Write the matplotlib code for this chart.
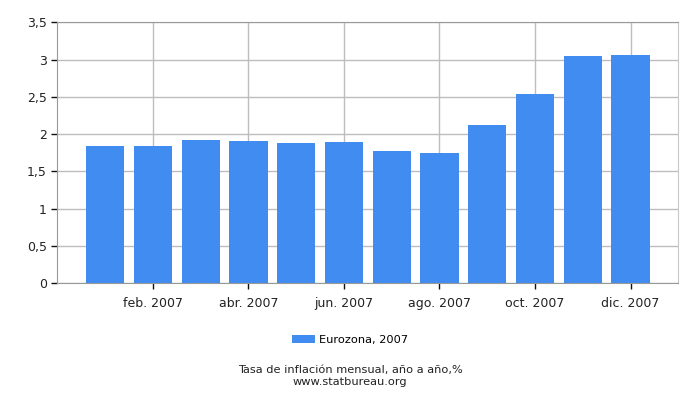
import matplotlib
matplotlib.use("Agg")
import matplotlib.pyplot as plt
from matplotlib.ticker import FuncFormatter, MultipleLocator

months = ["ene.", "feb.", "mar.", "abr.", "may.", "jun.",
          "jul.", "ago.", "sep.", "oct.", "nov.", "dic."]
year = "2007"
rates = [1.84, 1.84, 1.92, 1.91, 1.88, 1.90,
         1.77, 1.75, 2.12, 2.54, 3.05, 3.06]
series_label = "Eurozona, 2007"
caption = "Tasa de inflación mensual, año a año,%"
source = "www.statbureau.org"

bar_color = "#418cf0"
grid_color = "#bdbdbd"

fig = plt.figure(figsize=(7, 4), dpi=100)
ax = fig.add_axes([0.082, 0.2925, 0.887, 0.6515])

x = list(range(len(months)))
ax.bar(x, rates, width=0.8, color=bar_color, zorder=2, label=series_label)

ax.set_xlim(-1, 12)
ax.set_ylim(0, 3.5)
ax.yaxis.set_major_locator(MultipleLocator(0.5))
ax.yaxis.set_major_formatter(
    FuncFormatter(lambda v, _: f"{v:g}".replace(".", ",")))

tick_pos = x[1::2]
ax.set_xticks(tick_pos)
ax.set_xticklabels([f"{months[i]} {year}" for i in tick_pos])

ax.grid(True, color=grid_color, linewidth=1, zorder=0)
ax.set_axisbelow(True)
for side in ("top", "left", "bottom"):
    ax.spines[side].set_color("#999999")
ax.spines["right"].set_color("#c8c8c8")
ax.tick_params(axis="both", colors="#111111", labelsize=9, length=4,
               width=1, labelcolor="#222222")
ax.tick_params(axis="x", pad=6)

fig.legend(loc="center", bbox_to_anchor=(0.5, 0.15), frameon=False,
           fontsize=8.2, handlelength=2.0, handleheight=0.7,
           handletextpad=0.4)
fig.text(0.5, 0.074, caption, ha="center", va="center", fontsize=8.2,
         color="#222222")
fig.text(0.5, 0.045, source, ha="center", va="center", fontsize=8.2,
         color="#222222")

fig.savefig("out.png", dpi=100)
